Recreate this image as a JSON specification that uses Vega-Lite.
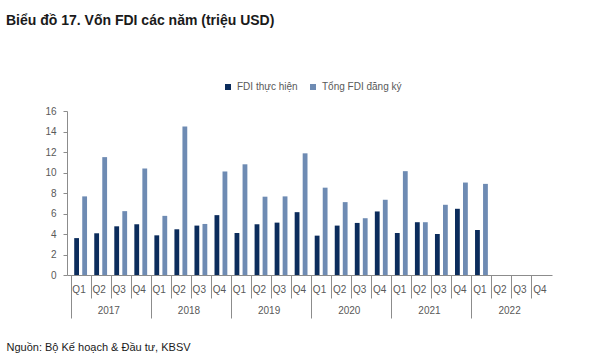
{
  "$schema": "https://vega.github.io/schema/vega-lite/v6.json",
  "width": 485,
  "height": 164,
  "autosize": "none",
  "padding": {"left": 67, "top": 111, "right": 48, "bottom": 82},
  "background": "white",
  "title": {
    "text": "Biểu đồ 17. Vốn FDI các năm (triệu USD)",
    "anchor": "start",
    "dy": -50,
    "fontSize": 14,
    "fontWeight": "bold",
    "color": "#1a1a1a"
  },
  "config": {
    "view": {"stroke": null}
  },
  "data": {
    "values": [
      {"period": "2017-Q1", "series": "FDI thực hiện", "value": 3.6},
      {"period": "2017-Q1", "series": "Tổng FDI đăng ký", "value": 7.67},
      {"period": "2017-Q2", "series": "FDI thực hiện", "value": 4.07},
      {"period": "2017-Q2", "series": "Tổng FDI đăng ký", "value": 11.5},
      {"period": "2017-Q3", "series": "FDI thực hiện", "value": 4.75},
      {"period": "2017-Q3", "series": "Tổng FDI đăng ký", "value": 6.23},
      {"period": "2017-Q4", "series": "FDI thực hiện", "value": 4.95},
      {"period": "2017-Q4", "series": "Tổng FDI đăng ký", "value": 10.4},
      {"period": "2018-Q1", "series": "FDI thực hiện", "value": 3.87},
      {"period": "2018-Q1", "series": "Tổng FDI đăng ký", "value": 5.77},
      {"period": "2018-Q2", "series": "FDI thực hiện", "value": 4.46},
      {"period": "2018-Q2", "series": "Tổng FDI đăng ký", "value": 14.5},
      {"period": "2018-Q3", "series": "FDI thực hiện", "value": 4.82},
      {"period": "2018-Q3", "series": "Tổng FDI đăng ký", "value": 4.98},
      {"period": "2018-Q4", "series": "FDI thực hiện", "value": 5.84},
      {"period": "2018-Q4", "series": "Tổng FDI đăng ký", "value": 10.1},
      {"period": "2019-Q1", "series": "FDI thực hiện", "value": 4.1},
      {"period": "2019-Q1", "series": "Tổng FDI đăng ký", "value": 10.8},
      {"period": "2019-Q2", "series": "FDI thực hiện", "value": 4.95},
      {"period": "2019-Q2", "series": "Tổng FDI đăng ký", "value": 7.64},
      {"period": "2019-Q3", "series": "FDI thực hiện", "value": 5.11},
      {"period": "2019-Q3", "series": "Tổng FDI đăng ký", "value": 7.67},
      {"period": "2019-Q4", "series": "FDI thực hiện", "value": 6.13},
      {"period": "2019-Q4", "series": "Tổng FDI đăng ký", "value": 11.87},
      {"period": "2020-Q1", "series": "FDI thực hiện", "value": 3.84},
      {"period": "2020-Q1", "series": "Tổng FDI đăng ký", "value": 8.52},
      {"period": "2020-Q2", "series": "FDI thực hiện", "value": 4.82},
      {"period": "2020-Q2", "series": "Tổng FDI đăng ký", "value": 7.11},
      {"period": "2020-Q3", "series": "FDI thực hiện", "value": 5.08},
      {"period": "2020-Q3", "series": "Tổng FDI đăng ký", "value": 5.54},
      {"period": "2020-Q4", "series": "FDI thực hiện", "value": 6.2},
      {"period": "2020-Q4", "series": "Tổng FDI đăng ký", "value": 7.34},
      {"period": "2021-Q1", "series": "FDI thực hiện", "value": 4.1},
      {"period": "2021-Q1", "series": "Tổng FDI đăng ký", "value": 10.13},
      {"period": "2021-Q2", "series": "FDI thực hiện", "value": 5.15},
      {"period": "2021-Q2", "series": "Tổng FDI đăng ký", "value": 5.15},
      {"period": "2021-Q3", "series": "FDI thực hiện", "value": 4.0},
      {"period": "2021-Q3", "series": "Tổng FDI đăng ký", "value": 6.85},
      {"period": "2021-Q4", "series": "FDI thực hiện", "value": 6.46},
      {"period": "2021-Q4", "series": "Tổng FDI đăng ký", "value": 9.02},
      {"period": "2022-Q1", "series": "FDI thực hiện", "value": 4.39},
      {"period": "2022-Q1", "series": "Tổng FDI đăng ký", "value": 8.89}
    ]
  },
  "mark": {"type": "bar", "width": {"band": 0.6}},
  "encoding": {
    "x": {
      "field": "period",
      "type": "nominal",
      "scale": {
        "domain": ["2017-Q1","2017-Q2","2017-Q3","2017-Q4","2018-Q1","2018-Q2","2018-Q3","2018-Q4","2019-Q1","2019-Q2","2019-Q3","2019-Q4","2020-Q1","2020-Q2","2020-Q3","2020-Q4","2021-Q1","2021-Q2","2021-Q3","2021-Q4","2022-Q1","2022-Q2","2022-Q3","2022-Q4"]
      },
      "axis": {
        "title": "Nguồn: Bộ Kế hoạch & Đầu tư, KBSV",
        "titleFontSize": 11,
        "titleFontWeight": "normal",
        "titleColor": "#1a1a1a",
        "titleAnchor": "start",
        "titleAlign": "left",
        "titleBaseline": "middle",
        "titleX": -61,
        "titleY": 72,
        "bandPosition": 0,
        "labelExpr": "slice(datum.value, 5) == 'Q2' ? ['Q2', '\u200b\u00a0\u00a0\u00a0\u00a0\u00a0\u00a0\u00a0' + slice(datum.value, 0, 4)] : [slice(datum.value, 5), '']",
        "labelAngle": 0,
        "labelFontSize": 10,
        "labelColor": "#595959",
        "labelLineHeight": 21,
        "labelBaseline": "top",
        "labelPadding": {"condition": {"test": "slice(datum.value, 5) == 'Q1'", "value": -34}, "value": -14},
        "tickSize": {"condition": {"test": "slice(datum.value, 5) == 'Q1'", "value": 43}, "value": 23},
        "tickColor": "#8c8c8c",
        "domainColor": "#8c8c8c"
      }
    },
    "xOffset": {
      "field": "series",
      "type": "nominal"
    },
    "y": {
      "field": "value",
      "type": "quantitative",
      "scale": {"domain": [0, 16]},
      "axis": {
        "title": null,
        "values": [0, 2, 4, 6, 8, 10, 12, 14, 16],
        "grid": false,
        "labelFontSize": 10,
        "labelColor": "#595959",
        "tickSize": 4,
        "labelPadding": 7,
        "tickColor": "#8c8c8c",
        "domainColor": "#8c8c8c"
      }
    },
    "color": {
      "field": "series",
      "type": "nominal",
      "scale": {"domain": ["FDI thực hiện", "Tổng FDI đăng ký"], "range": ["#0b2c5c", "#6e8bb3"]},
      "legend": {
        "title": null,
        "orient": "none",
        "direction": "horizontal",
        "legendX": 156,
        "legendY": -29,
        "symbolType": "square",
        "symbolSize": 36,
        "labelFontSize": 10,
        "labelColor": "#595959"
      }
    }
  }
}
